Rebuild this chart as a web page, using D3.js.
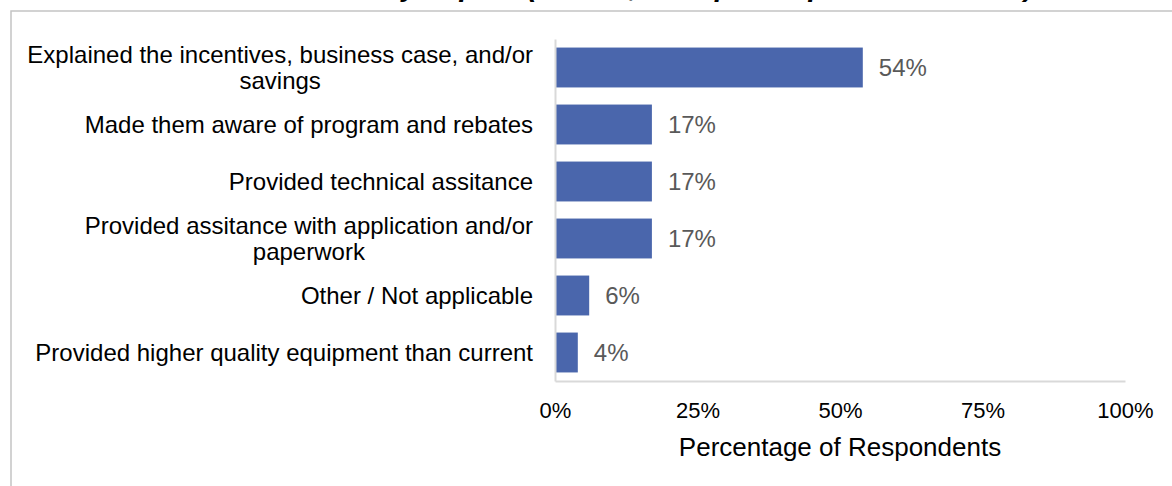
<!DOCTYPE html>
<html>
<head>
<meta charset="utf-8">
<script src="https://cdn.jsdelivr.net/npm/d3@7"></script>
<style>
  body { margin: 0; background: #fff; }
  svg { display: block; }
  text { font-family: Arial, "Liberation Sans", sans-serif; }
</style>
</head>
<body>
<svg id="chart" width="1172" height="486"></svg>
<script>
// Survey responses: how the contractor helped (share of respondents)
const categories = [
  "Explained the incentives, business case, and/or\nsavings",
  "Made them aware of program and rebates",
  "Provided technical assitance",
  "Provided assitance with application and/or\npaperwork",
  "Other / Not applicable",
  "Provided higher quality equipment than current"
];
const values = [54, 17, 17, 17, 6, 4];
const tickValues = [0, 25, 50, 75, 100];
const axisTitle = "Percentage of Respondents";
const chartTitle = "Trade Ally Impact (n=XXX, multiple responses allowed)";

const svg = d3.select("#chart");
const W = 1172, H = 486;
const plot = { left: 555, right: 1125, top: 39, bottom: 381 };

const x = d3.scaleLinear().domain([0, 100]).range([plot.left, plot.right]);
const y = d3.scaleBand()
  .domain(categories)
  .range([plot.top, plot.bottom])
  .paddingInner(0.3)
  .paddingOuter(0.15);

// outer frame
svg.append("rect")
  .attr("x", 11).attr("y", 11)
  .attr("width", W + 20).attr("height", H + 20)
  .attr("fill", "none")
  .attr("stroke", "#c4c4c4")
  .attr("stroke-width", 1.5);

// title (runs off the top edge)
svg.append("text")
  .attr("x", 1034).attr("y", -4)
  .attr("text-anchor", "end")
  .attr("font-size", 29)
  .attr("font-weight", "bold")
  .attr("font-style", "italic")
  .attr("fill", "#000")
  .text(chartTitle);

// bars
svg.append("g").selectAll("rect")
  .data(values)
  .join("rect")
  .attr("x", x(0))
  .attr("y", (d, i) => y(categories[i]))
  .attr("width", d => x(d) - x(0))
  .attr("height", y.bandwidth())
  .attr("fill", "#4a66ac");

// value labels
svg.append("g").selectAll("text")
  .data(values)
  .join("text")
  .attr("x", d => x(d) + 16)
  .attr("y", (d, i) => y(categories[i]) + y.bandwidth() / 2)
  .attr("dy", "0.36em")
  .attr("font-size", 24)
  .attr("fill", "#595959")
  .text(d => d + "%");

// x axis
const xAxis = svg.append("g")
  .attr("transform", `translate(0,${plot.bottom})`)
  .call(d3.axisBottom(x).tickValues(tickValues).tickSize(0).tickPadding(21)
    .tickFormat(d => d + "%"));
xAxis.select(".domain").attr("stroke", "#d9d9d9").attr("stroke-width", 2);
xAxis.selectAll("text")
  .attr("font-size", 22)
  .attr("font-family", "Arial, 'Liberation Sans', sans-serif")
  .attr("fill", "#000");

// y axis
const yAxis = svg.append("g")
  .attr("transform", `translate(${plot.left},0)`)
  .call(d3.axisLeft(y).tickSize(0).tickFormat(""));
yAxis.select(".domain").attr("stroke", "#d9d9d9").attr("stroke-width", 2);

// category labels, right-aligned block with centered lines
const labelRight = 533;
const lineH = 26;
categories.forEach(cat => {
  const lines = cat.split("\n");
  const g = svg.append("g");
  const texts = lines.map(l => g.append("text")
    .attr("font-size", 24)
    .attr("fill", "#000")
    .attr("text-anchor", "middle")
    .text(l));
  const widths = texts.map(t => t.node().getComputedTextLength());
  const blockW = d3.max(widths);
  const cx = labelRight - blockW / 2;
  const cy = y(cat) + y.bandwidth() / 2;
  texts.forEach((t, i) => {
    t.attr("x", cx)
     .attr("y", cy + (i - (lines.length - 1) / 2) * lineH)
     .attr("dy", "0.36em");
  });
});

// axis title
svg.append("text")
  .attr("x", (plot.left + plot.right) / 2)
  .attr("y", 447)
  .attr("dy", "0.36em")
  .attr("text-anchor", "middle")
  .attr("font-size", 26)
  .attr("fill", "#000")
  .text(axisTitle);
</script>
</body>
</html>
